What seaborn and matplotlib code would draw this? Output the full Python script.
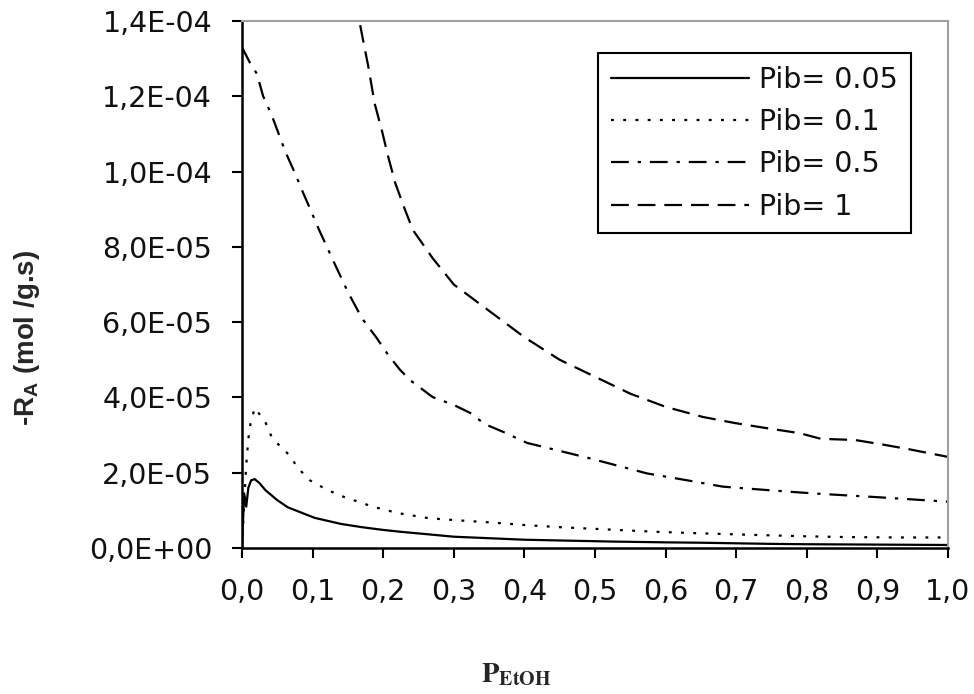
import numpy as np
import pandas as pd
import matplotlib
matplotlib.use("Agg")
import matplotlib.pyplot as plt
import seaborn as sns

# ---- data ----
x_pib005 = [0.0, 0.003, 0.006, 0.009, 0.013, 0.018, 0.025, 0.033, 0.05, 0.065, 0.084, 0.103,
            0.117, 0.14, 0.171, 0.2, 0.225, 0.26, 0.3, 0.35, 0.4, 0.45, 0.527, 0.6, 0.65,
            0.748, 0.8, 0.9, 1.0]
y_pib005 = [0.0, 1.45e-5, 1.1e-5, 1.6e-5, 1.8e-5, 1.83e-5, 1.72e-5, 1.54e-5, 1.27e-5, 1.08e-5,
            0.94e-5, 0.80e-5, 0.74e-5, 0.64e-5, 0.55e-5, 0.48e-5, 0.43e-5, 0.37e-5, 0.30e-5,
            0.26e-5, 0.22e-5, 0.20e-5, 0.17e-5, 0.15e-5, 0.14e-5, 0.11e-5, 0.10e-5, 0.09e-5,
            0.08e-5]

x_pib01 = [0.0, 0.003, 0.006, 0.009, 0.012, 0.018, 0.025, 0.033, 0.042, 0.055, 0.067, 0.079,
           0.096, 0.121, 0.144, 0.185, 0.22, 0.265, 0.31, 0.359, 0.4, 0.453, 0.52, 0.587, 0.65,
           0.721, 0.8, 0.856, 0.93, 1.0]
y_pib01 = [0.0, 1.2e-5, 2.2e-5, 2.9e-5, 3.3e-5, 3.72e-5, 3.55e-5, 3.35e-5, 2.95e-5, 2.68e-5,
           2.47e-5, 2.13e-5, 1.80e-5, 1.54e-5, 1.36e-5, 1.10e-5, 0.93e-5, 0.79e-5, 0.73e-5,
           0.67e-5, 0.61e-5, 0.55e-5, 0.49e-5, 0.43e-5, 0.39e-5, 0.35e-5, 0.31e-5, 0.29e-5,
           0.28e-5, 0.28e-5]

x_pib05 = [0.0, 0.011, 0.021, 0.03, 0.042, 0.054, 0.062, 0.075, 0.086, 0.099, 0.108, 0.13, 0.15,
           0.17, 0.19, 0.207, 0.224, 0.238, 0.27, 0.3, 0.323, 0.344, 0.368, 0.404, 0.45, 0.493,
           0.574, 0.63, 0.681, 0.75, 0.809, 0.9, 1.0]
y_pib05 = [13.3e-5, 12.9e-5, 12.6e-5, 12.0e-5, 11.5e-5, 10.9e-5, 10.5e-5, 9.96e-5, 9.46e-5,
           8.9e-5, 8.5e-5, 7.6e-5, 6.8e-5, 6.1e-5, 5.6e-5, 5.13e-5, 4.73e-5, 4.46e-5, 4.01e-5,
           3.8e-5, 3.59e-5, 3.29e-5, 3.1e-5, 2.79e-5, 2.58e-5, 2.38e-5, 1.98e-5, 1.8e-5,
           1.63e-5, 1.53e-5, 1.45e-5, 1.35e-5, 1.23e-5]

x_pib1 = [0.16, 0.171, 0.179, 0.188, 0.198, 0.207, 0.217, 0.231, 0.242, 0.27, 0.3, 0.35, 0.4,
          0.45, 0.5, 0.55, 0.6, 0.653, 0.698, 0.741, 0.79, 0.82, 0.868, 0.904, 0.943, 1.0]
y_pib1 = [14.6e-5, 13.54e-5, 12.78e-5, 11.8e-5, 11.1e-5, 10.4e-5, 9.7e-5, 8.98e-5, 8.45e-5,
          7.7e-5, 7.0e-5, 6.3e-5, 5.6e-5, 5.0e-5, 4.55e-5, 4.1e-5, 3.75e-5, 3.48e-5, 3.32e-5,
          3.19e-5, 3.05e-5, 2.9e-5, 2.87e-5, 2.76e-5, 2.63e-5, 2.42e-5]

series_labels = ["Pib= 0.05", "Pib= 0.1", "Pib= 0.5", "Pib= 1"]
x_ticks = [0.0, 0.1, 0.2, 0.3, 0.4, 0.5, 0.6, 0.7, 0.8, 0.9, 1.0]
x_tick_labels = ["0,0", "0,1", "0,2", "0,3", "0,4", "0,5", "0,6", "0,7", "0,8", "0,9", "1,0"]
y_ticks = [0.0, 2e-5, 4e-5, 6e-5, 8e-5, 1e-4, 1.2e-4, 1.4e-4]
y_tick_labels = ["0,0E+00", "2,0E-05", "4,0E-05", "6,0E-05", "8,0E-05", "1,0E-04",
                 "1,2E-04", "1,4E-04"]

# ---- style ----
sns.set_style("ticks")
plt.rcParams["font.family"] = ["DejaVu Sans"]
plt.rcParams["mathtext.fontset"] = "custom"
plt.rcParams["mathtext.bf"] = "Liberation Sans:bold"
plt.rcParams["mathtext.rm"] = "Liberation Sans"

W, H = 974, 694
fig = plt.figure(figsize=(W / 100, H / 100), dpi=100)
fig.patch.set_facecolor("white")
ax = fig.add_axes([242 / W, 1 - 548 / H, (948 - 242) / W, (548 - 21) / H])
ax.set_facecolor("white")

dash_styles = [None, (1.3, 4.2), (8, 4, 1.5, 4), (8, 4)]
all_x = [x_pib005, x_pib01, x_pib05, x_pib1]
all_y = [y_pib005, y_pib01, y_pib05, y_pib1]
for xs, ys, lab, dash in zip(all_x, all_y, series_labels, dash_styles):
    df = pd.DataFrame({"x": xs, "y": ys})
    sns.lineplot(data=df, x="x", y="y", ax=ax, color="black", linewidth=1.6,
                 estimator=None, sort=False, label=lab)
    line = ax.lines[-1]
    if dash is not None:
        line.set_dashes(dash)

ax.set_xlim(0, 1)
ax.set_ylim(0, 1.4e-4)
ax.set_xticks(x_ticks)
ax.set_xticklabels(x_tick_labels)
ax.set_yticks(y_ticks)
ax.set_yticklabels(y_tick_labels)
ax.tick_params(axis="both", direction="out", length=7.5, width=1.5, color="black",
               labelsize=20.5, labelcolor="#111111")
ax.tick_params(axis="y", pad=14)
ax.tick_params(axis="x", pad=14)
ax.set_xlabel("")
ax.set_ylabel("")

for s in ["left", "bottom"]:
    ax.spines[s].set_color("black")
    ax.spines[s].set_linewidth(1.8)
for s in ["top", "right"]:
    ax.spines[s].set_visible(True)
    ax.spines[s].set_color("#a0a0a0")
    ax.spines[s].set_linewidth(1.5)

leg = ax.legend(loc="upper right", bbox_to_anchor=(911 / W, 1 - 53 / H),
                bbox_transform=fig.transFigure, handlelength=4.85, handletextpad=0.35,
                borderpad=0.45, labelspacing=0.5, fontsize=20.5, frameon=True,
                fancybox=False, borderaxespad=0)
leg.get_frame().set_edgecolor("black")
leg.get_frame().set_linewidth(1.5)
leg.get_frame().set_alpha(1)
for t in leg.get_texts():
    t.set_color("#111111")

fig.text(27 / W, 1 - 338 / H, r"-R$_{\mathbf{A}}$ (mol /g.s)", rotation=90, ha="center",
         va="center", fontsize=20, fontweight="bold", family="Liberation Sans")
fig.text(516 / W, 1 - 682 / H, r"$\mathbf{P_{EtOH}}$", ha="center", va="baseline",
         fontsize=20.5, math_fontfamily="stix")

fig.savefig("out.png", dpi=100, facecolor="white")
